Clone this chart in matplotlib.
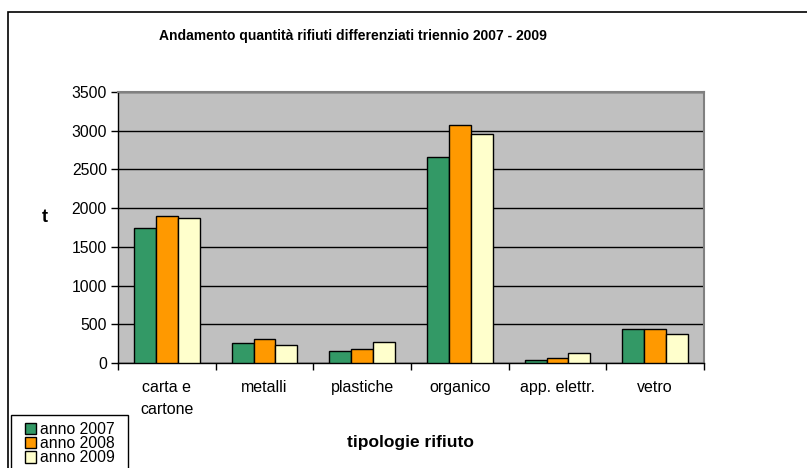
import matplotlib
matplotlib.use("Agg")
import matplotlib.pyplot as plt
from matplotlib.patches import Rectangle
import numpy as np

plt.rcParams['font.family'] = ['Liberation Sans', 'DejaVu Sans']

categories = ["carta e\ncartone", "metalli", "plastiche", "organico", "app. elettr.", "vetro"]
series_names = ["anno 2007", "anno 2008", "anno 2009"]
values_2007 = [1740, 254, 155, 2660, 39, 435]
values_2008 = [1898, 314, 177, 3078, 60, 435]
values_2009 = [1877, 232, 271, 2958, 133, 370]
colors = ["#339966", "#FF9900", "#FFFFCC"]
yticks = [0, 500, 1000, 1500, 2000, 2500, 3000, 3500]

W, H = 807, 468
fig = plt.figure(figsize=(W / 100, H / 100), dpi=100)
fig.patch.set_facecolor("white")

# outer chart border (extends past right/bottom edges)
fig.patches.append(Rectangle((7.5 / W, -0.05), 1.2, 1 - 11.5 / H + 0.05,
                             transform=fig.transFigure, fill=False,
                             edgecolor="black", linewidth=1.2, zorder=0))
# legend box (extends past bottom edge)
fig.patches.append(Rectangle((10.5 / W, -0.05), (128 - 10.5) / W, 1 - 415.5 / H + 0.05,
                             transform=fig.transFigure, facecolor="white",
                             edgecolor="black", linewidth=1.0, zorder=1))

ax = fig.add_axes([118 / W, 1 - 363 / H, (704 - 118) / W, (363 - 92) / H])
ax.set_facecolor("#C0C0C0")

x = np.arange(len(categories))
bw = 0.225
for i, (vals, name) in enumerate(zip([values_2007, values_2008, values_2009], series_names)):
    ax.bar(x + (i - 1) * bw, vals, width=bw, color=colors[i], edgecolor="black",
           linewidth=1.0, label=name, zorder=3)

ax.set_xlim(-0.5, len(categories) - 0.5)
ax.set_ylim(0, 3500)
ax.set_yticks(yticks)
ax.set_yticklabels([str(v) for v in yticks], fontsize=11.3)
ax.yaxis.grid(True, color="black", linewidth=1.0, zorder=1)
ax.set_axisbelow(True)

ax.set_xticks(x)
ax.set_xticklabels(categories, fontsize=11.5, linespacing=1.65)
ax.tick_params(axis="x", length=0, pad=12)
ax.set_xticks(np.arange(len(categories) + 1) - 0.5, minor=True)
ax.tick_params(axis="x", which="minor", length=5, width=1, direction="out")
ax.tick_params(axis="y", length=5, width=1, direction="out", pad=3)

for s in ["left", "bottom"]:
    ax.spines[s].set_color("black")
    ax.spines[s].set_linewidth(1.0)
for s in ["top", "right"]:
    ax.spines[s].set_color("#808080")
    ax.spines[s].set_linewidth(1.5)

fig.text(353 / W, 1 - 36 / H, "Andamento quantità rifiuti differenziati triennio 2007 - 2009",
         ha="center", va="center", fontsize=10, fontweight="bold")
fig.text(45 / W, 1 - 218 / H, "t", ha="center", va="center", fontsize=13, fontweight="bold")
fig.text(410 / W, 1 - 442 / H, "tipologie rifiuto", ha="center", va="center",
         fontsize=12.5, fontweight="bold")

leg = fig.legend(loc="upper left", bbox_to_anchor=(25 / W, 1 - 422 / H),
                 fontsize=11.3, frameon=False, borderaxespad=0,
                 handlelength=0.72, handleheight=0.72, handletextpad=0.25,
                 labelspacing=-0.05, borderpad=0)
leg.set_zorder(5)

fig.savefig("out.png", dpi=100)
